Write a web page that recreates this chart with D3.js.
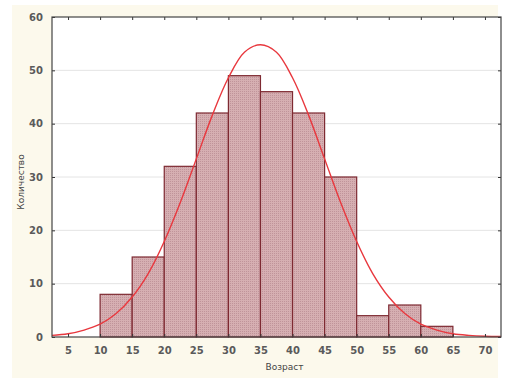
<!DOCTYPE html>
<html>
<head>
<meta charset="utf-8">
<script src="https://cdn.jsdelivr.net/npm/d3@7"></script>
<style>
  body { margin: 0; background: #ffffff; }
  text { font-family: "DejaVu Sans", sans-serif; }
</style>
</head>
<body>
<div id="chart"></div>
<script>
// bins (start of each 5-year bin) and counts
let binStarts = [10, 15, 20, 25, 30, 35, 40, 45, 50, 55, 60];
let counts    = [8, 15, 32, 42, 49, 46, 42, 30, 4, 6, 2];
let binWidth = 5;

// fitted curve, read at every 2.5 years
let curveX = [2.5, 5, 7.5, 10, 12.5, 15, 17.5, 20, 22.5, 25, 27.5, 30, 32.5, 35,
              37.5, 40, 42.5, 45, 47.5, 50, 52.5, 55, 57.5, 60, 62.5, 65, 67.5, 70, 72.5];
let curveY = [0.3, 0.6, 1.3, 2.4, 4.4, 7.5, 11.9, 17.9, 25.2, 33.4, 41.6, 48.6, 53.4, 54.8,
              53.4, 48.6, 41.6, 33.4, 25.2, 17.9, 11.9, 7.5, 4.4, 2.4, 1.3, 0.6, 0.3, 0.15, 0.1];

let xTicks = [5, 10, 15, 20, 25, 30, 35, 40, 45, 50, 55, 60, 65, 70];
let yTicks = [0, 10, 20, 30, 40, 50, 60];

let width = 515, height = 381;
let margin = {top: 17, right: 14, bottom: 44, left: 52};
let plotW = width - margin.left - margin.right;
let plotH = height - margin.top - margin.bottom;

let root = d3.select("#chart")
    .append("svg")
    .attr("width", width)
    .attr("height", height);

// cream backdrop
root.append("rect")
    .attr("x", 12).attr("y", 5)
    .attr("width", 486).attr("height", 373)
    .attr("fill", "#fcf9ec");

let defs = root.append("defs");
let pat = defs.append("pattern")
    .attr("id", "dots")
    .attr("patternUnits", "userSpaceOnUse")
    .attr("width", 2).attr("height", 2);
pat.append("rect").attr("width", 2).attr("height", 2).attr("fill", "#d6afb2");
pat.append("rect").attr("x", 0).attr("y", 0).attr("width", 1).attr("height", 1).attr("fill", "#c0949a");

let svg = root.append("g")
    .attr("transform", `translate(${margin.left},${margin.top})`);

let x = d3.scaleLinear().domain([2.5, 72.5]).range([0, plotW]);
let y = d3.scaleLinear().domain([0, 60]).range([plotH, 0]);

svg.append("rect")
    .attr("width", plotW).attr("height", plotH)
    .attr("fill", "#ffffff");

// gridlines
svg.append("g")
    .selectAll("line")
    .data(yTicks.filter(function(d) { return d > 0 && d < 60; }))
    .enter()
    .append("line")
    .attr("x1", 0).attr("x2", plotW)
    .attr("y1", function(d) { return y(d); })
    .attr("y2", function(d) { return y(d); })
    .attr("stroke", "#e4e4e4")
    .attr("stroke-width", 1);

// bars
let data = binStarts.map(function(s, i) { return {start: s, count: counts[i]}; });
svg.selectAll(".bar")
    .data(data)
    .enter()
    .append("rect")
    .attr("class", "bar")
    .attr("x", function(d) { return x(d.start); })
    .attr("y", function(d) { return y(d.count); })
    .attr("width", function(d) { return x(d.start + binWidth) - x(d.start); })
    .attr("height", function(d) { return y(0) - y(d.count); })
    .attr("fill", "url(#dots)")
    .attr("stroke", "#7e2a32")
    .attr("stroke-width", 1.2);

// curve
let line = d3.line()
    .x(function(d, i) { return x(curveX[i]); })
    .y(function(d) { return y(d); })
    .curve(d3.curveCatmullRom);

svg.append("path")
    .datum(curveY)
    .attr("d", line)
    .attr("fill", "none")
    .attr("stroke", "#e8383e")
    .attr("stroke-width", 1.4);

// axes
let axisColor = "#333";
let axBottom = svg.append("g")
    .attr("transform", `translate(0,${plotH})`)
    .call(d3.axisBottom(x).tickValues(xTicks).tickSize(-3).tickPadding(10));
let axLeft = svg.append("g")
    .call(d3.axisLeft(y).tickValues(yTicks).tickSize(-3).tickPadding(9));
let axTop = svg.append("g")
    .call(d3.axisTop(x).tickValues(xTicks).tickSize(-3).tickFormat(""));
let axRight = svg.append("g")
    .attr("transform", `translate(${plotW},0)`)
    .call(d3.axisRight(y).tickValues(yTicks).tickSize(-3).tickFormat(""));

[axBottom, axLeft, axTop, axRight].forEach(function(g) {
    g.select(".domain").remove();
    g.selectAll("line").attr("stroke", axisColor);
    g.selectAll("text")
        .style("font-size", "10px")
        .style("font-weight", "bold")
        .attr("fill", "#5a5a5a");
});

svg.append("rect")
    .attr("width", plotW).attr("height", plotH)
    .attr("fill", "none")
    .attr("stroke", "#444")
    .attr("stroke-width", 1.2);

// axis labels
svg.append("text")
    .attr("transform", `translate(${plotW / 2 + 8}, ${plotH + 33})`)
    .style("text-anchor", "middle")
    .style("font-size", "9px")
    .attr("fill", "#444")
    .text("Возраст");

svg.append("text")
    .attr("transform", `translate(-28, ${y(30) + 5}) rotate(-90)`)
    .style("text-anchor", "middle")
    .style("font-size", "9px")
    .attr("fill", "#444")
    .text("Количество");
</script>
</body>
</html>
